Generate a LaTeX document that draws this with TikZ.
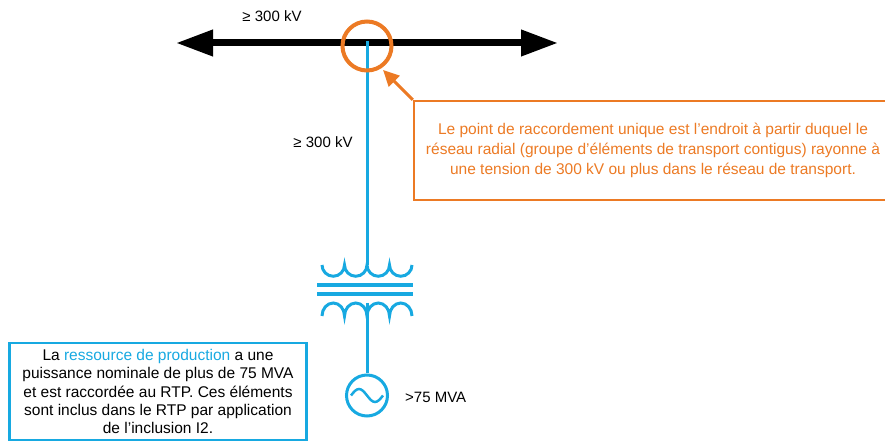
\documentclass[tikz,border=0pt]{standalone}
\usepackage{fontspec}
\setmainfont{Liberation Sans}
\usetikzlibrary{arrows.meta}
\definecolor{cblue}{HTML}{17A9E1}
\definecolor{corange}{HTML}{EC7A24}
\begin{document}
\begin{tikzpicture}[x=1pt,y=1pt,
  lbl/.style={font=\fontsize{15}{17}\selectfont, inner sep=0pt},
  bluewire/.style={draw=cblue, line width=3pt},
  boxtext/.style={font=\fontsize{15.5}{18.3}\selectfont, align=center, inner sep=0pt}]
\useasboundingbox (0,0) rectangle (885,441);
\clip (0,0) rectangle (885,441);
% bus
\coordinate (busL) at (176,398);
\coordinate (busR) at (558,398);
\draw[line width=7pt, {Triangle[length=37pt,width=25pt]}-{Triangle[length=37pt,width=25pt]}] (busL) -- (busR);
% vertical feeder
\coordinate (tap) at (367,399.5);
\coordinate (coilTop) at (367,176);
\draw[bluewire] (tap) -- (coilTop);
% upper winding
\draw[bluewire] (322,176) arc[start angle=180,end angle=360,radius=11.25pt]
  arc[start angle=180,end angle=360,radius=11.25pt]
  arc[start angle=180,end angle=360,radius=11.25pt]
  arc[start angle=180,end angle=360,radius=11.25pt];
% core bars
\draw[bluewire, line width=3.5pt] (317,156) -- (413,156);
\draw[bluewire, line width=3.5pt] (317,147) -- (413,147);
% lower winding
\draw[bluewire] (322,125) arc[start angle=180,end angle=0,x radius=11.25pt,y radius=13pt]
  arc[start angle=180,end angle=0,x radius=11.25pt,y radius=13pt]
  arc[start angle=180,end angle=0,x radius=11.25pt,y radius=13pt]
  arc[start angle=180,end angle=0,x radius=11.25pt,y radius=13pt];
\coordinate (coilBot) at (367,138);
% generator
\node[circle, draw=cblue, line width=3pt, minimum size=41pt, inner sep=0pt] (gen) at (367,45.5) {};
\draw[bluewire] (coilBot) -- (gen.north);
\draw[cblue, line width=2.5pt] (351,45.5) sin (359,52) cos (367,45.5) sin (375,39) cos (383,45.5);
% point of connection
\node[circle, draw=corange, line width=4pt, minimum size=49pt, inner sep=0pt] (poc) at (367,395) {};
% labels
\node[lbl] (v1) at (272,425) {≥ 300 kV};
\node[lbl] (v2) at (323,299) {≥ 300 kV};
\node[lbl, anchor=west] (mva) at (405,44) {>75 MVA};
% orange callout
\node[draw=corange, line width=2.5pt, minimum width=478pt, minimum height=99pt, boxtext, text=corange, font=\fontsize{15.5}{20}\selectfont] (obox) at (653,290.5)
  {Le point de raccordement unique est l’endroit à partir duquel le\\
   réseau radial (groupe d’éléments de transport contigus) rayonne à\\
   une tension de 300 kV ou plus dans le réseau de transport.};
\coordinate (ptip) at (383,371);
\draw[corange, line width=3pt, -{Triangle[length=16pt,width=15pt]}] (obox.north west) -- (ptip);
% blue callout
\node[draw=cblue, line width=2.5pt, minimum width=297pt, minimum height=97pt, boxtext] (bbox) at (158,49.5)
  {La {\color{cblue}ressource de production} a une\\
   puissance nominale de plus de 75 MVA\\
   et est raccordée au RTP. Ces éléments\\
   sont inclus dans le RTP par application\\
   de l’inclusion I2.};
\end{tikzpicture}
\end{document}
